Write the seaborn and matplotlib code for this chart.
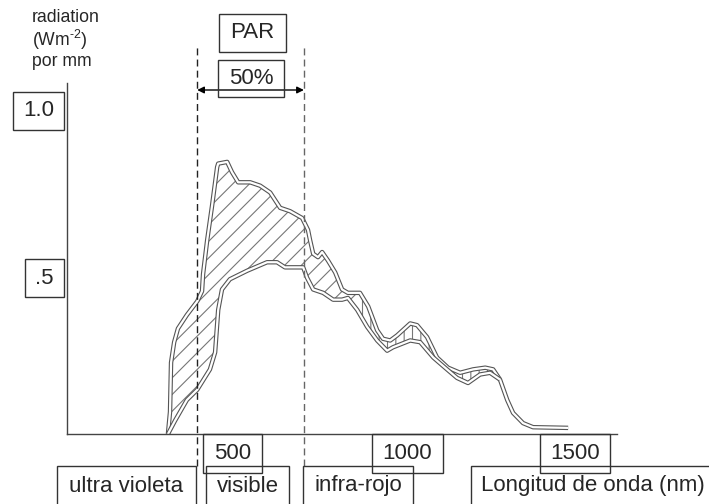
import pandas as pd
import matplotlib
matplotlib.use("Agg")
import matplotlib.pyplot as plt
from matplotlib.patches import Rectangle
import seaborn as sns

# --- dati (lunghezza d'onda in nm, radiazione per nm) ---
upper_nm = [305, 311, 314, 323, 334, 360, 390, 404, 407, 419, 433, 448, 451, 477,
            491, 509, 544, 573, 602, 631, 660, 695, 712, 718, 727, 741, 753, 770,
            791, 811, 828, 863, 887, 913, 930, 951, 971, 1009, 1029, 1058, 1087,
            1119, 1154, 1192, 1227, 1250, 1270, 1291, 1308, 1337, 1366, 1468]
upper_val = [0.0, 0.065, 0.21, 0.27, 0.31, 0.35, 0.39, 0.42, 0.47, 0.57, 0.67, 0.785,
             0.795, 0.80, 0.77, 0.74, 0.74, 0.73, 0.71, 0.665, 0.655, 0.635, 0.60,
             0.57, 0.53, 0.52, 0.535, 0.51, 0.475, 0.425, 0.415, 0.415, 0.375, 0.305,
             0.28, 0.275, 0.29, 0.325, 0.32, 0.285, 0.225, 0.195, 0.18, 0.19, 0.195,
             0.19, 0.16, 0.10, 0.062, 0.032, 0.02, 0.018]

lower_nm = [305, 326, 360, 390, 427, 442, 451, 462, 485, 535, 593, 622, 645, 698,
            709, 727, 756, 785, 811, 828, 855, 884, 913, 942, 959, 1009, 1038, 1076,
            1116, 1145, 1177, 1212, 1241, 1270]
lower_val = [0.0, 0.04, 0.10, 0.13, 0.19, 0.24, 0.365, 0.425, 0.455, 0.48, 0.505,
             0.505, 0.49, 0.49, 0.46, 0.425, 0.415, 0.395, 0.395, 0.40, 0.365, 0.315,
             0.275, 0.245, 0.255, 0.275, 0.27, 0.225, 0.19, 0.165, 0.15, 0.175, 0.18,
             0.16]

par_limits = [390, 700]
split_nm = 860  # cambio di tratteggio
x_ticks = [500, 1000, 1500]
x_tick_labels = ["500", "1000", "1500"]
y_ticks = [0.5, 1.0]
y_tick_labels = [".5", "1.0"]
band_labels = ["ultra violeta", "visible", "infra-rojo", "Longitud de onda (nm)"]

df_up = pd.DataFrame({"nm": upper_nm, "val": upper_val})
df_lo = pd.DataFrame({"nm": lower_nm, "val": lower_val})

sns.set_style("white")
plt.rcParams["font.family"] = ["Liberation Sans", "DejaVu Sans"]
plt.rcParams["mathtext.fontset"] = "custom"
plt.rcParams["mathtext.rm"] = "Liberation Sans"
plt.rcParams["hatch.linewidth"] = 0.8

W, H = 709, 504
fig = plt.figure(figsize=(W / 100, H / 100), dpi=100)
ax = fig.add_axes([67 / W, 1 - 434 / H, 550 / W, 351 / H])


def fx(px):
    return px / W


def fy(py):
    return 1 - py / H


# area tratteggiata tra le due curve
end_nm = lower_nm[-1]
up_a = df_up[df_up.nm <= split_nm + 3]
lo_a = df_lo[df_lo.nm <= split_nm - 5]
up_b = df_up[(df_up.nm >= split_nm + 3) & (df_up.nm <= end_nm)]
lo_b = df_lo[df_lo.nm >= split_nm - 5]
ax.fill(list(up_a.nm) + list(lo_a.nm[::-1]), list(up_a.val) + list(lo_a.val[::-1]),
        facecolor="white", edgecolor="#777777", hatch="//", lw=0)
ax.fill(list(up_b.nm) + list(lo_b.nm[::-1]), list(up_b.val) + list(lo_b.val[::-1]),
        facecolor="white", edgecolor="#777777", hatch="||", lw=0)

# curve "a tubo"
for d in (df_up, df_lo):
    sns.lineplot(data=d, x="nm", y="val", ax=ax, sort=False, color="#555555", lw=3.2,
                 solid_joinstyle="round", solid_capstyle="butt")
    sns.lineplot(data=d, x="nm", y="val", ax=ax, sort=False, color="white", lw=1.6,
                 solid_joinstyle="round", solid_capstyle="butt")

ax.set_xlim(11.6, 1610)
ax.set_ylim(0, 1.032)
ax.set_xticks(x_ticks)
ax.set_yticks(y_ticks)
ax.tick_params(direction="in", length=8, width=1, color="#444444",
               labelbottom=False, labelleft=False)
ax.set_xlabel("")
ax.set_ylabel("")
for s in ["top", "right"]:
    ax.spines[s].set_visible(False)
for s in ["left", "bottom"]:
    ax.spines[s].set_color("#444444")
    ax.spines[s].set_linewidth(1)

# linee tratteggiate PAR
for i, x in enumerate(par_limits):
    ax.axvline(x, ymin=-0.091, ymax=1.108, clip_on=False, ls=(0, (5, 3)), lw=1,
               color="#222222" if i == 0 else "#666666")


def box(x0, y0, x1, y1, txt, size=16, ty=None):
    fig.patches.append(Rectangle((fx(x0), fy(y1)), fx(x1) - fx(x0), fy(y0) - fy(y1),
                                 transform=fig.transFigure, fill=False,
                                 ec="#333333", lw=1))
    cy = (y0 + y1) / 2 if ty is None else ty
    fig.text(fx((x0 + x1) / 2), fy(cy), txt, ha="center", va="center", fontsize=size)


# etichette in riquadro
box(13, 92, 64, 130, y_tick_labels[1])
box(25, 259, 64, 297, y_tick_labels[0])
box(203, 434, 262, 473, x_tick_labels[0])
box(372, 434, 443, 473, x_tick_labels[1])
box(540, 434, 610, 473, x_tick_labels[2])
box(57, 466, 196, 510, band_labels[0], ty=486)
box(206, 466, 289, 510, band_labels[1], ty=486)
box(303, 466, 413, 510, band_labels[2], ty=486)
box(471, 466, 714, 510, band_labels[3], ty=486)
box(219, 14, 286, 52, "PAR")
box(218, 60, 284, 97, "50%")

# freccia PAR
ax.annotate("", xy=(par_limits[1], fy(90)), xytext=(par_limits[0], fy(90)),
            xycoords=("data", "figure fraction"), textcoords=("data", "figure fraction"),
            annotation_clip=False,
            arrowprops=dict(arrowstyle="<|-|>", color="black", lw=1, shrinkA=0, shrinkB=0,
                            mutation_scale=10))

# titolo asse y
fig.text(fx(32), fy(17), "radiation", va="center", fontsize=12.7)
fig.text(fx(32), fy(40), r"(Wm$^{\text{-2}}$)", va="center", fontsize=12.7)
fig.text(fx(32), fy(62), "por mm", va="center", fontsize=12.7)

fig.savefig("out.png", dpi=100)
